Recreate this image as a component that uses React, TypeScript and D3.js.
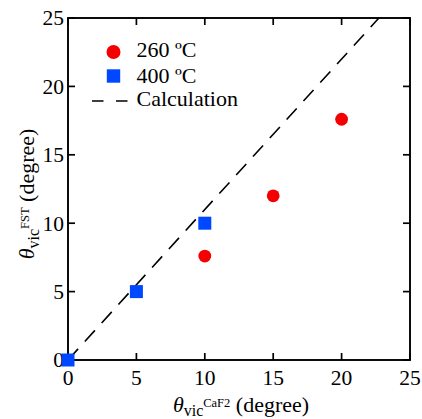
import React from "react";
import * as d3 from "d3";

// Vicinal angle measured by FST vs. CaF2 substrate vicinal angle
const ticks = [0, 5, 10, 15, 20, 25];
const red260X = [10, 15, 20];
const red260Y = [7.6, 12.0, 17.6];
const blue400X = [0, 5, 10];
const blue400Y = [0, 5, 10];
const calcSlope = [1.1];
const legendLabels = ["260 ºC", "400 ºC", "Calculation"];

const W = 422;
const H = 419;
const FONT = "Liberation Serif";
const RED = "#f40000";
const BLUE = "#0048ff";

export default function App() {
  const x = d3.scaleLinear().domain([0, 25]).range([68, 410]);
  const y = d3.scaleLinear().domain([0, 25]).range([360, 18]);
  const [x0, x1] = x.range();
  const [y0, y1] = y.range();
  const tl = 7;

  const k = calcSlope[0];
  const calcEnd = Math.min(25, 25 / k);
  const line = d3
    .line<[number, number]>()
    .x((d) => x(d[0]))
    .y((d) => y(d[1]));
  const calcPath = line([
    [0, 0],
    [calcEnd, k * calcEnd],
  ]);

  const sq = 13;
  const r = 6.4;
  const tickFs = 21.5;

  return (
    <svg
      width={W}
      height={H}
      style={{ position: "absolute", left: 0, top: 0, background: "#fff" }}
    >
      <defs>
        <clipPath id="plotClip">
          <rect x={x0} y={y1} width={x1 - x0} height={y0 - y1} />
        </clipPath>
      </defs>

      {/* calculation line */}
      <path
        d={calcPath ?? ""}
        fill="none"
        stroke="#000"
        strokeWidth={1.6}
        strokeDasharray="15,10"
        clipPath="url(#plotClip)"
      />

      {/* frame */}
      <rect
        x={x0}
        y={y1}
        width={x1 - x0}
        height={y0 - y1}
        fill="none"
        stroke="#000"
        strokeWidth={1.9}
      />

      {/* inward ticks on all four sides */}
      {ticks.map((t) => (
        <g key={"t" + t} stroke="#000" strokeWidth={1.7}>
          <line x1={x(t)} x2={x(t)} y1={y0} y2={y0 - tl} />
          <line x1={x(t)} x2={x(t)} y1={y1} y2={y1 + tl} />
          <line x1={x0} x2={x0 + tl} y1={y(t)} y2={y(t)} />
          <line x1={x1} x2={x1 - tl} y1={y(t)} y2={y(t)} />
        </g>
      ))}

      <g fontFamily={FONT} fill="#000">
        {/* tick labels */}
        {ticks.map((t) => (
          <text key={"xl" + t} x={x(t)} y={y0 + 25} fontSize={tickFs} textAnchor="middle">
            {t}
          </text>
        ))}
        {ticks.map((t) => (
          <text key={"yl" + t} x={x0 - 4} y={y(t) + 7.3} fontSize={tickFs} textAnchor="end">
            {t}
          </text>
        ))}
      </g>

      {/* data */}
      {blue400X.map((v, i) => (
        <rect
          key={"b" + i}
          x={x(v) - sq / 2}
          y={y(blue400Y[i]) - sq / 2}
          width={sq}
          height={sq}
          fill={BLUE}
        />
      ))}
      {red260X.map((v, i) => (
        <circle key={"r" + i} cx={x(v)} cy={y(red260Y[i])} r={r} fill={RED} />
      ))}

      {/* legend */}
      <g fontFamily={FONT} fill="#000" fontSize={22}>
        <circle cx={113.5} cy={52} r={7} fill={RED} />
        <text x={136.5} y={57}>{legendLabels[0]}</text>
        <rect x={113.5 - 6.7} y={76 - 6.7} width={13.4} height={13.4} fill={BLUE} />
        <text x={136.5} y={83}>{legendLabels[1]}</text>
        <line
          x1={92}
          x2={128}
          y1={101}
          y2={101}
          stroke="#000"
          strokeWidth={1.6}
          strokeDasharray="11.5,12.5"
        />
        <text x={136.5} y={106}>{legendLabels[2]}</text>
      </g>

      {/* axis titles */}
      <g fontFamily={FONT} fill="#000">
        <text x={241} y={411.5} textAnchor="middle" fontSize={22}>
          <tspan fontStyle="italic" fontSize={22}>θ</tspan>
          <tspan fontSize={16} dy={4}>vic</tspan>
          <tspan fontSize={12.5} dy={-9}>CaF2</tspan>
          <tspan fontSize={22} dy={5}> (degree)</tspan>
        </text>
        <text
          transform={`translate(34, 194) rotate(-90)`}
          textAnchor="middle"
          fontSize={22}
        >
          <tspan fontStyle="italic" fontSize={22}>θ</tspan>
          <tspan fontSize={16} dy={5}>vic</tspan>
          <tspan fontSize={12.5} dy={-10}>FST</tspan>
          <tspan fontSize={22} dy={5}> (degree)</tspan>
        </text>
      </g>
    </svg>
  );
}
